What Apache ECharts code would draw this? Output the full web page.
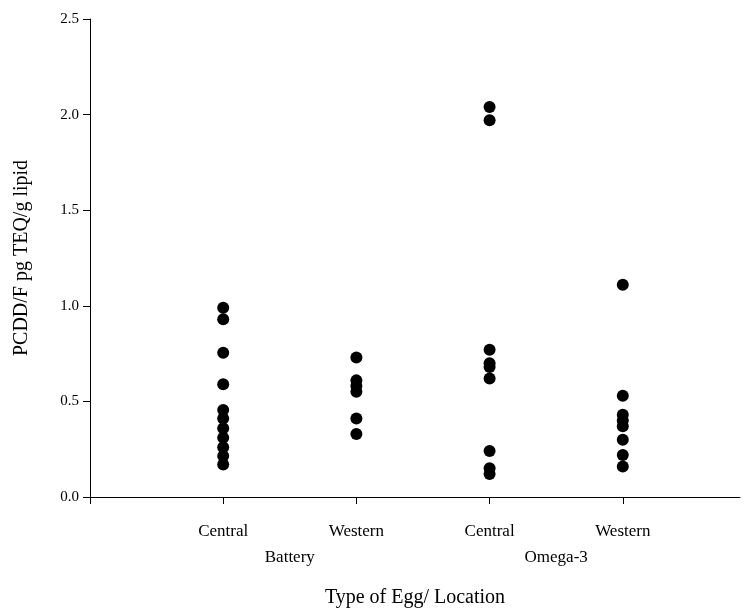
<!DOCTYPE html>
<html><head><meta charset="utf-8">
<script src="https://cdn.jsdelivr.net/npm/echarts@6/dist/echarts.min.js"></script>
<style>html,body{margin:0;padding:0;background:#fff}#c{width:746px;height:609px}</style>
</head><body><div id="c"></div>
<script>
const locations = ['Central', 'Western', 'Central', 'Western'];
const eggTypes = ['Battery', 'Omega-3'];
const batteryCentral = [0.99, 0.93, 0.755, 0.59, 0.455, 0.41, 0.36, 0.31, 0.26, 0.215, 0.17];
const batteryWestern = [0.73, 0.61, 0.58, 0.55, 0.41, 0.33];
const omegaCentral = [2.04, 1.97, 0.77, 0.70, 0.68, 0.62, 0.24, 0.15, 0.12];
const omegaWestern = [1.11, 0.53, 0.43, 0.40, 0.37, 0.30, 0.22, 0.16];
const yTicks = [0, 0.5, 1.0, 1.5, 2.0, 2.5];

const groups = [batteryCentral, batteryWestern, omegaCentral, omegaWestern];
const pts = [];
groups.forEach((g, i) => g.forEach(v => pts.push([i + 1, v])));

const font = 'Liberation Serif';
const chart = echarts.init(document.getElementById('c'));
chart.setOption({
  animation: false,
  textStyle: { fontFamily: font },
  grid: { left: 90, right: 6, top: 19, bottom: 112, containLabel: false, outerBoundsMode: 'none' },
  xAxis: [{
    type: 'value', min: 0, max: 4.88, interval: 1,
    splitLine: { show: false },
    axisLine: { lineStyle: { color: '#000', width: 1 } },
    axisTick: { show: true, length: 7, lineStyle: { color: '#000' }, customValues: [0, 1, 2, 3, 4] },
    axisLabel: {
      color: '#000', fontSize: 17, fontFamily: font, margin: 26,
      formatter: v => (Number.isInteger(v) && v >= 1 && v <= 4) ? locations[v - 1] : ''
    },
    name: 'Type of Egg/ Location', nameLocation: 'middle', nameGap: 91,
    nameTextStyle: { color: '#000', fontSize: 20, fontFamily: font }
  }, {
    type: 'value', min: 0, max: 4.88, interval: 0.5, position: 'bottom',
    splitLine: { show: false }, axisLine: { show: false }, axisTick: { show: false },
    axisLabel: {
      color: '#000', fontSize: 17, fontFamily: font, margin: 52,
      formatter: v => v === 1.5 ? eggTypes[0] : (v === 3.5 ? eggTypes[1] : '')
    }
  }],
  yAxis: {
    type: 'value', min: yTicks[0], max: yTicks[yTicks.length - 1], interval: 0.5,
    splitLine: { show: false },
    axisLine: { show: true, lineStyle: { color: '#000', width: 1 } },
    axisTick: { show: true, length: 7, lineStyle: { color: '#000' } },
    axisLabel: { color: '#000', fontSize: 15, fontFamily: font, margin: 11, formatter: v => v.toFixed(1) },
    name: 'PCDD/F pg TEQ/g lipid', nameLocation: 'middle', nameGap: 58, nameRotate: 90,
    nameTextStyle: { color: '#000', fontSize: 20, fontFamily: font }
  },
  series: [{
    type: 'scatter', xAxisIndex: 0, data: pts, symbol: 'circle', symbolSize: 12,
    itemStyle: { color: '#000', opacity: 1 }
  }]
});
</script></body></html>
